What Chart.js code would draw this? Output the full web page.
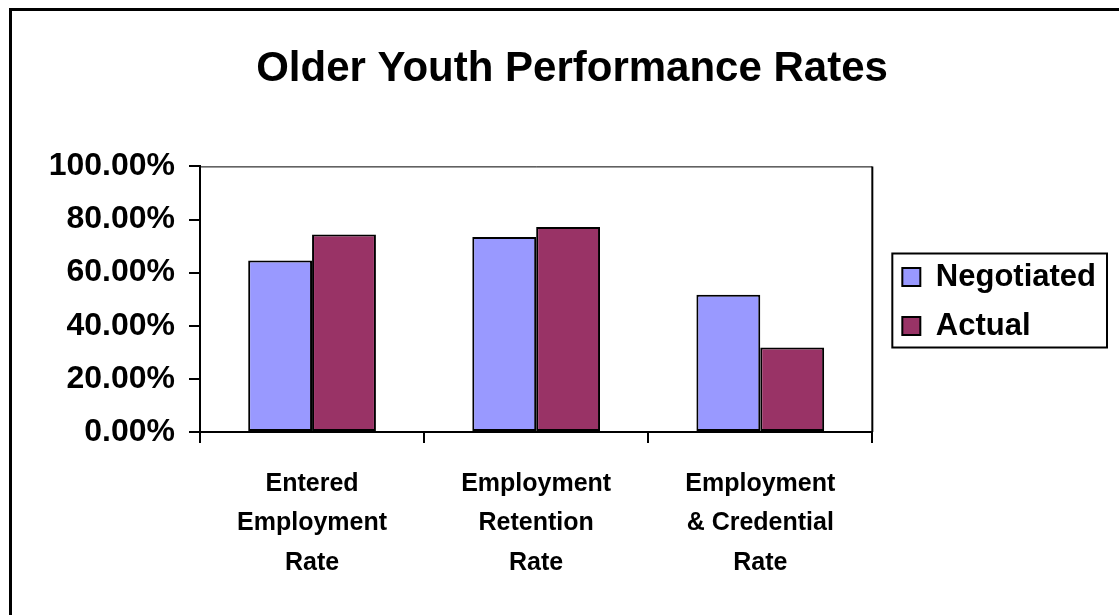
<!DOCTYPE html>
<html>
<head>
<meta charset="utf-8">
<script src="https://cdn.jsdelivr.net/npm/chart.js@4/dist/chart.umd.min.js"></script>
<style>
  html, body { margin: 0; padding: 0; background: #fff; }
</style>
</head>
<body>
<canvas id="chart" width="1119" height="615"></canvas>
<script>
// --- Data ---
const categories = [
    ['Entered', 'Employment', 'Rate'],
    ['Employment', 'Retention', 'Rate'],
    ['Employment', '& Credential', 'Rate']
];
const negotiated = [64.6, 73.4, 51.7];
const actual = [74.4, 77.2, 31.8];
const yTicks = [0, 20, 40, 60, 80, 100];

const FONT = "'Liberation Sans', Arial, sans-serif";

// outer frame, plot border and legend box
const framePlugin = {
    id: 'frame',
    afterLayout(chart) {
        // push legend a little away from the plot and up a bit
        chart.legend.left += 12;
        chart.legend.right += 12;
        chart.legend.top -= 6;
        chart.legend.bottom -= 6;
    },
    beforeDraw(chart) {
        const ctx = chart.ctx;
        ctx.save();
        ctx.fillStyle = '#fff';
        ctx.fillRect(0, 0, chart.width, chart.height);
        ctx.fillStyle = '#000';
        ctx.fillRect(9, 8, chart.width - 9, 3);
        ctx.fillRect(9, 8, 3, chart.height - 8);
        ctx.restore();
    },
    afterDraw(chart) {
        const ctx = chart.ctx;
        const a = chart.chartArea;
        ctx.save();
        ctx.strokeStyle = '#000';
        ctx.lineWidth = 1;
        ctx.beginPath();
        ctx.moveTo(a.left, a.top + 0.5);
        ctx.lineTo(a.right, a.top + 0.5);
        ctx.stroke();
        ctx.lineWidth = 2;
        ctx.beginPath();
        ctx.moveTo(a.right, a.top);
        ctx.lineTo(a.right, a.bottom);
        ctx.stroke();

        const hb = chart.legend.legendHitBoxes;
        if (hb && hb.length) {
            const x0 = hb[0].left - 10;
            const y0 = hb[0].top - 8;
            const x1 = Math.max(...hb.map(h => h.left + h.width)) + 11;
            const last = hb[hb.length - 1];
            const y1 = last.top + last.height + 6;
            ctx.lineWidth = 2;
            ctx.strokeRect(x0, y0, x1 - x0, y1 - y0);
        }
        ctx.restore();
    }
};

new Chart(document.getElementById('chart').getContext('2d'), {
    type: 'bar',
    data: {
        labels: categories,
        datasets: [{
            label: 'Negotiated',
            data: negotiated,
            backgroundColor: '#9999FF',
            borderColor: '#000',
            borderWidth: 2,
            borderSkipped: false
        }, {
            label: 'Actual',
            data: actual,
            backgroundColor: '#993366',
            borderColor: '#000',
            borderWidth: 2,
            borderSkipped: false
        }]
    },
    options: {
        responsive: false,
        animation: false,
        datasets: {
            bar: { barPercentage: 1.0, categoryPercentage: 0.57 }
        },
        layout: { padding: { left: 50, right: 25, top: 10, bottom: 10 } },
        plugins: {
            title: {
                display: true,
                text: 'Older Youth Performance Rates',
                color: '#000',
                font: { family: FONT, size: 42, weight: 'bold' },
                padding: { top: 34, bottom: 72 }
            },
            legend: {
                position: 'right',
                labels: {
                    color: '#000',
                    font: { family: FONT, size: 31, weight: 'bold' },
                    boxWidth: 18,
                    boxHeight: 18,
                    padding: 18
                }
            },
            tooltip: { enabled: false }
        },
        scales: {
            x: {
                afterFit: scale => { scale.height = 173; },
                grid: {
                    offset: true,
                    drawOnChartArea: false,
                    tickLength: 11,
                    color: '#000',
                    lineWidth: 2
                },
                border: { color: '#000', width: 2 },
                ticks: {
                    color: '#000',
                    font: { family: FONT, size: 25, weight: 'bold', lineHeight: 1.58 },
                    padding: 21,
                    maxRotation: 0,
                    autoSkip: false
                }
            },
            y: {
                min: 0,
                max: 100,
                afterFit: scale => { scale.width = 150; },
                afterBuildTicks: scale => { scale.ticks = yTicks.map(v => ({ value: v })); },
                grid: {
                    drawOnChartArea: false,
                    tickLength: 11,
                    color: '#000',
                    lineWidth: 2
                },
                border: { color: '#000', width: 2 },
                ticks: {
                    color: '#000',
                    font: { family: FONT, size: 32, weight: 'bold' },
                    padding: 14,
                    callback: v => v.toFixed(2) + '%'
                }
            }
        }
    },
    plugins: [framePlugin]
});
</script>
</body>
</html>
